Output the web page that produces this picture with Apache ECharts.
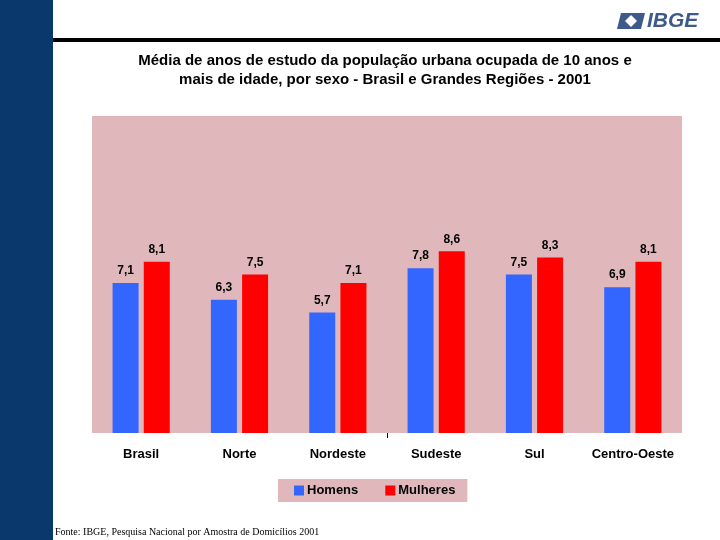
<!DOCTYPE html>
<html>
<head>
<meta charset="utf-8">
<script src="https://cdn.jsdelivr.net/npm/echarts@6/dist/echarts.min.js"></script>
<style>html,body{margin:0;padding:0;background:#fff}#c{width:720px;height:540px}</style>
</head>
<body>
<div id="c"></div>
<script>
const categories = ['Brasil', 'Norte', 'Nordeste', 'Sudeste', 'Sul', 'Centro-Oeste'];
const homens = [7.1, 6.3, 5.7, 7.8, 7.5, 6.9];
const mulheres = [8.1, 7.5, 7.1, 8.6, 8.3, 8.1];
const seriesNames = ['Homens', 'Mulheres'];
const titleText = 'Média de anos de estudo da população urbana ocupada de 10 anos e\nmais de idade, por sexo - Brasil e Grandes Regiões - 2001';
const sourceText = 'Fonte: IBGE, Pesquisa Nacional por Amostra de Domicílios 2001';

const pink = '#e0b8bc';
const fmt = p => String(p.value).replace('.', ',');
const labelStyle = { show: true, position: 'top', distance: 6, formatter: fmt, color: '#000', fontFamily: 'Liberation Sans, Arial', fontWeight: 'bold', fontSize: 12 };

const chart = echarts.init(document.getElementById('c'), null, { renderer: 'canvas' });
chart.setOption({
  animation: false,
  backgroundColor: '#fff',
  title: {
    text: titleText,
    left: 380, top: 46, textAlign: 'center',
    textStyle: { fontFamily: 'Liberation Sans, Arial', fontWeight: 'bold', fontSize: 15, lineHeight: 19, color: '#000' }
  },
  grid: { left: 92, right: 38, top: 116, bottom: 107, show: true, backgroundColor: pink, borderWidth: 0 },
  legend: {
    data: seriesNames, left: 278, top: 479,
    backgroundColor: pink, padding: [5, 12, 5, 16], itemGap: 27,
    itemWidth: 10, itemHeight: 10, icon: 'rect',
    textStyle: { fontFamily: 'Liberation Sans, Arial', fontWeight: 'bold', fontSize: 13, color: '#000', padding: [0, 0, 0, -2] }
  },
  xAxis: [
    {
      type: 'category', data: categories,
      axisLine: { show: false },
      axisTick: { show: false },
      axisLabel: { interval: 0, margin: 15, color: '#000', fontFamily: 'Liberation Sans, Arial', fontWeight: 'bold', fontSize: 13 }
    },
    {
      type: 'value', min: 0, max: 2, position: 'bottom',
      axisLine: { show: false }, splitLine: { show: false },
      axisLabel: { show: false },
      axisTick: { show: true, customValues: [1], length: 5, lineStyle: { color: '#000' } }
    }
  ],
  yAxis: { type: 'value', min: 0, max: 15, show: false, splitLine: { show: false } },
  series: [
    { name: seriesNames[0], type: 'bar', data: homens, itemStyle: { color: '#3366ff' }, barWidth: 26, barGap: '20%', label: labelStyle },
    { name: seriesNames[1], type: 'bar', data: mulheres, itemStyle: { color: '#ff0000' }, barWidth: 26, label: labelStyle }
  ],
  graphic: [
    { type: 'rect', shape: { x: 0, y: 0, width: 53, height: 540 }, style: { fill: '#0b386c' }, z: 10 },
    { type: 'rect', shape: { x: 53, y: 38, width: 667, height: 4 }, style: { fill: '#000' }, z: 10 },
    { type: 'polygon', shape: { points: [[621, 13], [645, 13], [641, 29], [617, 29]] }, style: { fill: '#3d5a8a' }, z: 10 },
    { type: 'polygon', shape: { points: [[631, 15], [637, 21], [631, 27], [625, 21]] }, style: { fill: '#fff' }, z: 11 },
    { type: 'text', style: { text: 'IBGE', x: 647, y: 11, fill: '#3d5a8a', font: 'italic bold 21px Liberation Sans, Arial' }, z: 10 },
    { type: 'text', style: { text: sourceText, x: 55, y: 527, fill: '#000', font: '10px Liberation Serif, Times New Roman' }, z: 10 }
  ]
});
</script>
</body>
</html>
